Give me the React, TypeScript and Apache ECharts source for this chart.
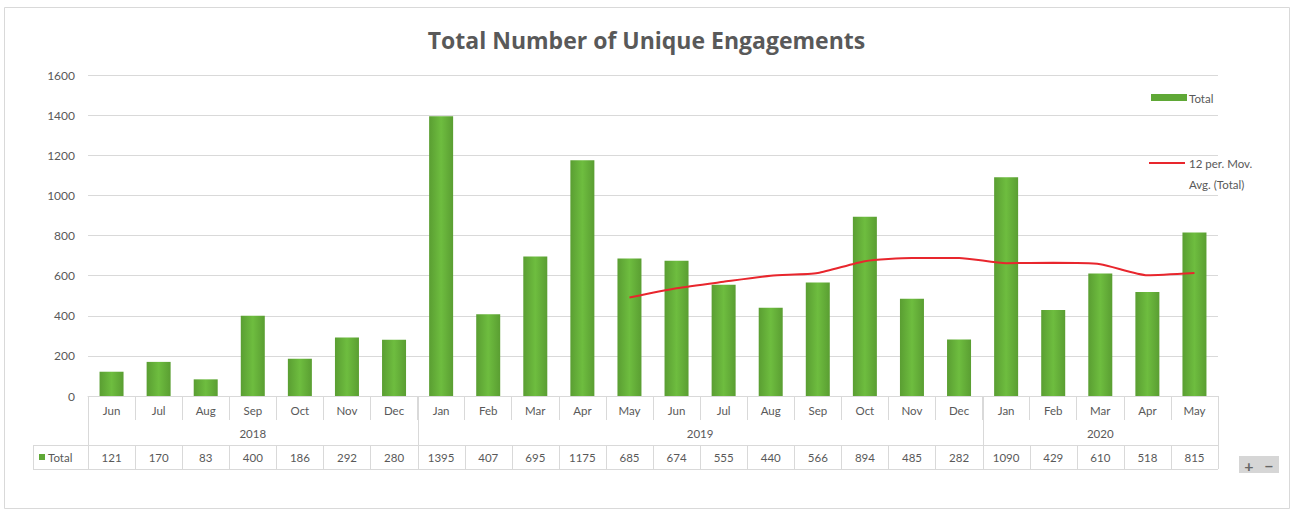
import React, { useEffect, useRef } from "react";
import * as echarts from "echarts";

const months = ["Jun","Jul","Aug","Sep","Oct","Nov","Dec","Jan","Feb","Mar","Apr","May","Jun","Jul","Aug","Sep","Oct","Nov","Dec","Jan","Feb","Mar","Apr","May"];
const totals = [121,170,83,400,186,292,280,1395,407,695,1175,685,674,555,440,566,894,485,282,1090,429,610,518,815];
const movAvg: (number | null)[] = [null,null,null,null,null,null,null,null,null,null,null,491,537,569,599,613,672,688,688,662,664,657,602,613];
const years = [
  { label: "2018", from: 0, to: 6 },
  { label: "2019", from: 7, to: 18 },
  { label: "2020", from: 19, to: 23 },
];
const yTicks = [0, 200, 400, 600, 800, 1000, 1200, 1400, 1600];
const title = "Total Number of Unique Engagements";
const seriesNames = ["Total", "12 per. Mov. Avg. (Total)"];

const FONT = "Lato, 'Liberation Sans', sans-serif";
const TFONT = "'Open Sans', Lato, sans-serif";
const TXT = "#595959";
const GRID = "#d9d9d9";

export default function App() {
  const ref = useRef<HTMLDivElement>(null);
  useEffect(() => {
    document.body.style.margin = "0";
    const chart = echarts.init(ref.current!, null, { renderer: "svg" });
    const option: any = {
      animation: false,
      backgroundColor: "#ffffff",
      textStyle: { fontFamily: FONT },
      title: {
        text: title,
        left: "center",
        top: 23,
        textStyle: { fontFamily: TFONT, fontSize: 23, fontWeight: "bold", color: TXT },
      },
      grid: { left: 88, top: 75, width: 1130, height: 321, containLabel: false },
      xAxis: {
        type: "category",
        data: months,
        axisLine: { show: true, lineStyle: { color: GRID } },
        axisTick: { show: true, interval: 0, length: 24, lineStyle: { color: GRID } },
        axisLabel: { interval: 0, color: TXT, fontSize: 11.5, margin: 8, fontFamily: FONT },
      },
      yAxis: {
        type: "value",
        min: yTicks[0],
        max: yTicks[yTicks.length - 1],
        interval: 200,
        axisLine: { show: false },
        axisTick: { show: false },
        axisLabel: { color: TXT, fontSize: 12, margin: 13, fontFamily: FONT, formatter: (v: number) => String(v) },
        splitLine: { lineStyle: { color: GRID } },
      },
      series: [
        {
          name: seriesNames[0],
          type: "bar",
          data: totals,
          barWidth: 24,
          itemStyle: {
            color: new echarts.graphic.LinearGradient(0, 0, 1, 0, [
              { offset: 0, color: "#5a9e32" },
              { offset: 0.5, color: "#6ebd3f" },
              { offset: 1, color: "#5a9e32" },
            ]),
          },
        },
        {
          name: seriesNames[1],
          type: "line",
          data: movAvg,
          symbol: "none",
          smooth: 0.2,
          lineStyle: { color: "#e8262d", width: 2 },
        },
      ],
    };
    chart.setOption(option);

    const xs = months.map((_, i) => chart.convertToPixel({ xAxisIndex: 0 }, i) as number);
    const bw = xs[1] - xs[0];
    const left = xs[0] - bw / 2;
    const right = xs[xs.length - 1] + bw / 2;
    const yAxisBase = chart.convertToPixel({ yAxisIndex: 0 }, 0) as number;
    const rowTop = yAxisBase + 49;
    const rowBot = rowTop + 24;
    const yearY = yAxisBase + 37;
    const f = `11.5px ${FONT}`;

    const g: any[] = [];
    g.push({ type: "rect", z: -10, shape: { x: 4.5, y: 7.5, width: 1285, height: 501 }, style: { fill: "none", stroke: GRID, lineWidth: 1 } });
    const seps = [left, ...years.slice(1).map((y) => xs[y.from] - bw / 2), right];
    seps.forEach((x) => g.push({ type: "line", shape: { x1: Math.round(x) + 0.5, y1: yAxisBase, x2: Math.round(x) + 0.5, y2: rowBot }, style: { stroke: GRID, lineWidth: 1 } }));
    years.forEach((y) => {
      const cx = (xs[y.from] + xs[y.to]) / 2;
      g.push({ type: "text", x: cx, y: yearY, style: { text: y.label, fill: TXT, font: f, align: "center", verticalAlign: "middle" } });
    });
    g.push({ type: "line", shape: { x1: 33, y1: rowTop + 0.5, x2: right, y2: rowTop + 0.5 }, style: { stroke: GRID, lineWidth: 1 } });
    g.push({ type: "line", shape: { x1: 33, y1: rowBot + 0.5, x2: right, y2: rowBot + 0.5 }, style: { stroke: GRID, lineWidth: 1 } });
    g.push({ type: "line", shape: { x1: 33.5, y1: rowTop, x2: 33.5, y2: rowBot }, style: { stroke: GRID, lineWidth: 1 } });
    xs.forEach((x, i) => {
      if (i > 0) {
        const bx = Math.round(x - bw / 2) + 0.5;
        g.push({ type: "line", shape: { x1: bx, y1: rowTop, x2: bx, y2: rowBot }, style: { stroke: GRID, lineWidth: 1 } });
      }
      g.push({ type: "text", x, y: rowTop + 12.5, style: { text: String(totals[i]), fill: TXT, font: f, align: "center", verticalAlign: "middle" } });
    });
    g.push({ type: "rect", shape: { x: 39, y: rowTop + 9, width: 6, height: 6 }, style: { fill: "#5fa836" } });
    g.push({ type: "text", x: 48, y: rowTop + 12.5, style: { text: seriesNames[0], fill: TXT, font: f, align: "left", verticalAlign: "middle" } });
    g.push({ type: "rect", shape: { x: 1151, y: 94, width: 36, height: 7 }, style: { fill: "#5fa836" } });
    g.push({ type: "text", x: 1189, y: 98, style: { text: seriesNames[0], fill: TXT, font: f, align: "left", verticalAlign: "middle" } });
    g.push({ type: "line", shape: { x1: 1149, y1: 163, x2: 1185, y2: 163 }, style: { stroke: "#e8262d", lineWidth: 2 } });
    g.push({ type: "text", x: 1189, y: 163, style: { text: "12 per. Mov.", fill: TXT, font: f, align: "left", verticalAlign: "middle" } });
    g.push({ type: "text", x: 1189, y: 184, style: { text: "Avg. (Total)", fill: TXT, font: f, align: "left", verticalAlign: "middle" } });
    g.push({ type: "rect", shape: { x: 1239, y: 456, width: 40, height: 17 }, style: { fill: "#d6d6d6" } });
    g.push({ type: "text", x: 1249, y: 465, style: { text: "+", fill: "#666666", font: `bold 16px ${FONT}`, align: "center", verticalAlign: "middle" } });
    g.push({ type: "text", x: 1269, y: 465, style: { text: "\u2212", fill: "#666666", font: `bold 16px ${FONT}`, align: "center", verticalAlign: "middle" } });

    chart.setOption({ graphic: { elements: g } });
    return () => chart.dispose();
  }, []);
  return <div ref={ref} style={{ width: 1293, height: 511 }} />;
}
